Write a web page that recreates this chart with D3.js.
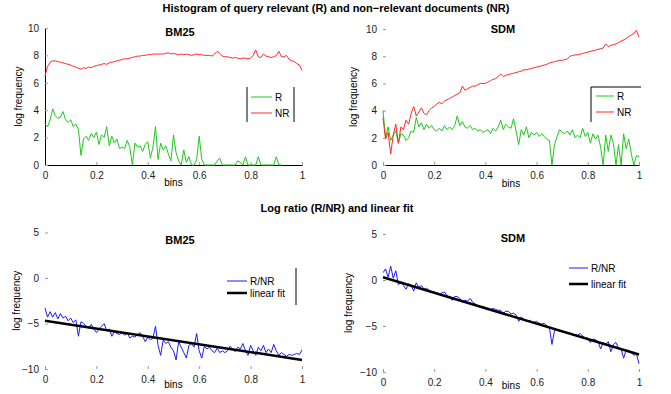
<!DOCTYPE html>
<html>
<head>
<meta charset="utf-8">
<script src="https://cdn.jsdelivr.net/npm/d3@7"></script>
<style>
  body { margin: 0; background: #fff; }
  svg { font-family: "Liberation Sans", Arial, sans-serif; }
</style>
</head>
<body>
<svg id="chart" width="671" height="394"></svg>
<script>
// bins 0 .. 1 in steps of 0.01
var bins = d3.range(0, 101).map(function (i) { return i / 100; });
var xTicks = [0, 0.2, 0.4, 0.6, 0.8, 1];
var histTicks = [0, 2, 4, 6, 8, 10];
var ratioTicks = [-10, -5, 0, 5];

var bm25NR = [6.5, 7.2, 7.5, 7.6, 7.6, 7.55, 7.5, 7.45, 7.4, 7.35,
  7.3, 7.2, 7.15, 7.05, 7.0, 7.1, 7.05, 7.15, 7.1, 7.2,
  7.25, 7.3, 7.35, 7.4, 7.35, 7.45, 7.5, 7.55, 7.6, 7.65,
  7.7, 7.75, 7.75, 7.8, 7.85, 7.9, 7.95, 7.95, 8.0, 8.0,
  8.05, 8.05, 8.1, 8.1, 8.1, 8.1, 8.1, 8.15, 8.2, 8.1,
  8.15, 8.1, 8.05, 8.1, 8.05, 8.1, 8.05, 8.0, 8.05, 8.1,
  8.05, 8.05, 8.0, 8.0, 8.0, 7.95, 8.1, 8.3, 8.15, 7.95,
  7.9, 7.9, 7.85, 7.8, 7.85, 7.8, 7.75, 7.8, 7.8, 7.75,
  7.8, 8.0, 8.4, 7.9, 7.85, 8.1, 7.95, 7.9, 7.85, 7.9,
  8.0, 8.3, 7.9, 7.9, 8.0, 7.7, 7.6, 7.55, 7.4, 7.3,
  6.9];
var bm25R = [3.0, 2.8, 3.3, 4.1, 3.6, 3.4, 3.5, 3.9, 3.3, 3.1,
  3.3, 2.8, 3.0, 2.6, 0.7, 1.9, 2.1, 1.8, 2.3, 2.0,
  2.4, 1.5, 2.2, 2.0, 2.8, 1.4, 2.1, 1.6, 1.9, 1.2,
  1.3, 1.2, 1.8, 1.3, 0.0, 1.6, 1.3, 1.4, 1.0, 1.5,
  1.7, 0.5, 1.3, 2.8, 0.4, 1.6, 1.1, 1.4, 0.8, 0.3,
  2.2, 0.9, 0.3, 0.0, 1.1, 0.2, 0.6, 0.0, 0.0, 0.4,
  2.1, 0.4, 0.0, 0.0, 0.0, 0.0, 0.0, 0.3, 0.5, 0.0,
  0.0, 0.0, 0.0, 0.0, 0.0, 0.3, 0.2, 0.0, 0.6, 0.0,
  0.0, 0.0, 0.0, 0.6, 0.0, 0.0, 0.0, 0.0, 0.0, 0.0,
  0.6, 0.0, 0.0, null, null, null, null, null, null, null,
  null];
var sdmNR = [3.5, 1.9, 2.4, 0.8, 2.2, 3.0, 1.6, 2.8, 2.6, 3.3,
  3.0, 3.8, 4.3, 3.6, 3.9, 4.2, 3.8, 3.7, 4.0, 4.2,
  4.3, 4.5, 4.6, 4.5, 4.7, 4.8, 4.9, 5.0, 5.1, 5.2,
  5.3, 5.8, 5.5, 5.6, 5.7, 5.8, 5.8, 5.9, 6.0, 6.0,
  6.0, 6.1, 6.2, 6.3, 6.35, 6.5, 6.7, 6.5, 6.6, 6.65,
  6.7, 6.75, 6.8, 6.85, 6.9, 7.0, 7.0, 7.05, 7.1, 7.15,
  7.2, 7.25, 7.3, 7.35, 7.4, 7.5, 7.55, 7.6, 7.65, 7.7,
  7.7, 7.75, 7.8, 8.0, 8.05, 8.1, 8.1, 8.15, 8.2, 8.25,
  8.3, 8.35, 8.4, 8.45, 8.5, 8.55, 8.6, 8.9, 8.7, 8.8,
  8.85, 8.9, 9.0, 9.1, 9.2, 9.3, 9.45, 9.55, 9.7, 9.9,
  9.4];
var sdmR = [4.0, 2.0, 2.8, 1.8, 2.2, 2.5, 1.6, 2.3, 2.2, 1.8,
  2.0, 2.5, 2.4, 3.5, 2.8, 3.1, 2.6, 3.0, 2.7, 2.9,
  2.6, 2.5, 2.7, 2.5, 2.9, 2.6, 2.8, 2.6, 2.9, 3.6,
  2.9, 3.2, 2.8, 2.7, 2.9, 2.6, 2.7, 2.5, 2.6, 2.4,
  2.5, 2.6, 2.3, 2.7, 2.5, 2.8, 3.3, 2.6, 3.0, 2.8,
  2.7, 3.4, 2.5, 1.5, 2.6, 2.2, 2.8, 2.0, 2.4, 2.2,
  2.4, 2.1, 2.3, 2.1, 1.9, 1.8, 0.0, 1.5, 2.1, 2.6,
  2.4, 2.3, 2.5, 2.2, 2.6, 2.0, 2.2, 2.0, 2.7, 2.1,
  2.4, 1.6, 2.3, 1.9, 2.2, 1.3, 0.0, 2.2, 1.0, 2.2,
  1.6, 0.0, 1.5, 0.0, 2.3, 1.2, 1.9, 0.8, 0.0, 0.7,
  0.6];
var bm25Ratio = [-3.3, -4.3, -3.7, -4.3, -3.8, -4.5, -3.9, -4.4, -4.2, -4.7,
  -4.4, -4.9, -4.6, -6.4, -4.8, -5.0, -5.3, -5.5, -5.1, -5.6,
  -6.0, -5.6, -5.3, -5.0, -5.8, -5.6, -6.4, -5.9, -6.1, -6.2,
  -6.0, -6.3, -6.0, -6.6, -6.4, -6.5, -6.2, -6.0, -6.4, -7.0,
  -6.5, -6.8, -6.6, -5.3, -7.4, -8.5, -6.8, -7.2, -7.0, -7.6,
  -8.0, -9.0, -7.0, -7.6, -8.2, -8.8, -7.4, -7.2, -7.6, -6.1,
  -8.0, -8.8, -7.5, -7.8, -7.6, -8.0, -8.2, -7.7, -8.2, -8.0,
  -8.2, -8.0, -7.5, -7.8, -8.1, -7.6, -7.8, -7.2, -8.0, -8.5,
  -7.4, -8.0, -8.5, -7.6, -8.0, -7.4, -8.2, -7.8, -8.2, -7.3,
  -8.0, -8.5, -8.2, -8.4, -8.6, -8.4, -8.5, -8.4, -8.3, -8.4,
  -7.9];
var sdmRatio = [0.8, 1.2, 0.3, 1.5, 0.2, 1.0, -0.5, -0.2, -0.6, -1.0,
  -0.4, -0.6, -1.2, -0.3, -0.8, -0.6, -1.0, -0.9, -1.1, -1.3,
  -1.3, -1.5, -1.6, -1.4, -1.3, -1.7, -1.9, -2.2, -1.8, -1.8,
  -2.0, -2.4, -2.2, -2.3, -2.0, -2.4, -2.6, -2.8, -3.0, -2.9,
  -3.0, -3.1, -3.2, -3.1, -3.2, -3.3, -3.3, -3.6, -3.4, -3.4,
  -3.7, -3.6, -3.8, -4.5, -4.0, -4.3, -4.5, -4.4, -4.5, -4.6,
  -4.5, -4.7, -4.8, -4.7, -5.0, -5.2, -7.0, -5.5, -5.4, -5.6,
  -5.6, -5.7, -5.8, -5.7, -6.0, -5.9, -6.0, -5.8, -6.1, -6.3,
  -6.3, -6.8, -6.4, -6.5, -6.7, -7.5, -6.8, -7.0, -6.7, -7.8,
  -7.0, -6.8, -7.4, -7.5, -8.5, -7.6, -7.7, -7.9, -8.2, -8.0,
  -9.1];
// linear fit end points at bins 0 and 1
var fitX = [0, 1];
var bm25Fit = [-4.7, -9.0];
var sdmFit = [0.3, -8.1];

var svg = d3.select("#chart");

svg.append("text")
  .attr("x", 336).attr("y", 12)
  .attr("text-anchor", "middle")
  .attr("font-size", 11).attr("font-weight", "bold")
  .text("Histogram of query relevant (R) and non\u2212relevant documents (NR)");

svg.append("text")
  .attr("x", 337).attr("y", 212)
  .attr("text-anchor", "middle")
  .attr("font-size", 11).attr("font-weight", "bold")
  .text("Log ratio (R/NR) and linear fit");

function drawPanel(p) {
  var x = d3.scaleLinear().domain([0, 1]).range([p.x0, p.x1]);
  var y = d3.scaleLinear().domain(p.yDomain).range([p.yBottom, p.yTop]);
  var g = svg.append("g");

  // axes (MATLAB style, inward ticks)
  var xAxis = g.append("g")
    .attr("transform", "translate(0," + p.yBottom + ")")
    .call(d3.axisBottom(x).tickValues(xTicks).tickSizeInner(-3).tickSizeOuter(0)
      .tickPadding(7).tickFormat(d3.format("")));
  var yAxis = g.append("g")
    .attr("transform", "translate(" + p.x0 + ",0)")
    .call(d3.axisLeft(y).tickValues(p.yTicks).tickSizeInner(-3).tickSizeOuter(0)
      .tickPadding(6));
  [xAxis, yAxis].forEach(function (a) {
    a.selectAll("text").attr("font-size", 10).attr("fill", "#222")
      .attr("font-family", "Liberation Sans, Arial, sans-serif");
    a.selectAll(".tick line").attr("stroke", "#999");
  });
  xAxis.select(".domain").attr("stroke", p.showX ? "#000" : "none");
  yAxis.select(".domain").attr("stroke", p.showY ? "#000" : "none");

  var line = d3.line()
    .defined(function (d) { return d[1] !== null; })
    .x(function (d) { return x(d[0]); })
    .y(function (d) { return y(d[1]); });

  p.series.forEach(function (s) {
    var pts = s.xs.map(function (v, i) { return [v, s.values[i]]; });
    g.append("path")
      .datum(pts)
      .attr("fill", "none")
      .attr("stroke", s.color)
      .attr("stroke-width", s.width)
      .attr("stroke-linejoin", "round")
      .attr("d", line);
  });

  // titles and labels
  g.append("text")
    .attr("x", p.titleX).attr("y", p.yTop + p.titleDy)
    .attr("text-anchor", "middle")
    .attr("font-size", 11).attr("font-weight", "bold")
    .text(p.title);
  g.append("text")
    .attr("x", (p.x0 + p.x1) / 2).attr("y", p.yBottom + p.xLabelDy)
    .attr("text-anchor", "middle")
    .attr("font-size", 10)
    .text("bins");
  g.append("text")
    .attr("transform", "translate(" + p.yLabelX + "," + (p.yTop + p.yBottom) / 2 + ") rotate(-90)")
    .attr("text-anchor", "middle")
    .attr("font-size", 10)
    .text("log frequency");

  // legend
  var lg = p.legend;
  var border = g.append("g").attr("stroke", "#000").attr("stroke-width", 1);
  lg.sides.forEach(function (side) {
    var c = { left: [lg.x, lg.y, lg.x, lg.y + lg.h], right: [lg.x + lg.w, lg.y, lg.x + lg.w, lg.y + lg.h],
      top: [lg.x, lg.y, lg.x + lg.w, lg.y], bottom: [lg.x, lg.y + lg.h, lg.x + lg.w, lg.y + lg.h] }[side];
    border.append("line").attr("x1", c[0]).attr("y1", c[1]).attr("x2", c[2]).attr("y2", c[3]);
  });
  p.series.forEach(function (s, i) {
    var ly = lg.y + lg.first + i * lg.step;
    g.append("line")
      .attr("x1", lg.lineX0).attr("x2", lg.lineX1)
      .attr("y1", ly).attr("y2", ly)
      .attr("stroke", s.color).attr("stroke-width", s.width);
    g.append("text")
      .attr("x", lg.lineX1 + 3).attr("y", ly + 3.5)
      .attr("font-size", 10)
      .text(s.name);
  });
}

drawPanel({
  x0: 45, x1: 302, yTop: 28, yBottom: 165, yDomain: [0, 10], yTicks: histTicks,
  showX: true, showY: true, title: "BM25", titleX: 180, titleDy: 8, yLabelX: 22, xLabelDy: 21,
  series: [
    { name: "R", xs: bins, values: bm25R, color: "#1ec81e", width: 1 },
    { name: "NR", xs: bins, values: bm25NR, color: "#ff2a2a", width: 1 }
  ],
  legend: { x: 247, y: 87, w: 47, h: 35, first: 10, step: 16, lineX0: 251, lineX1: 272, sides: ["left", "right"] }
});

drawPanel({
  x0: 383, x1: 639, yTop: 29, yBottom: 165, yDomain: [0, 10], yTicks: histTicks,
  showX: true, showY: false, title: "SDM", titleX: 503, titleDy: 4, yLabelX: 357, xLabelDy: 22,
  series: [
    { name: "R", xs: bins, values: sdmR, color: "#1ec81e", width: 1 },
    { name: "NR", xs: bins, values: sdmNR, color: "#ff2a2a", width: 1 }
  ],
  legend: { x: 591, y: 87, w: 50, h: 35, first: 9, step: 16, lineX0: 596, lineX1: 614, sides: ["left", "top"] }
});

drawPanel({
  x0: 45, x1: 302, yTop: 232.5, yBottom: 369, yDomain: [-10, 5], yTicks: ratioTicks,
  showX: false, showY: false, title: "BM25", titleX: 180, titleDy: 11, yLabelX: 20, xLabelDy: 19,
  series: [
    { name: "R/NR", xs: bins, values: bm25Ratio, color: "#1a1aff", width: 1 },
    { name: "linear fit", xs: fitX, values: bm25Fit, color: "#000", width: 2.5 }
  ],
  legend: { x: 224, y: 268, w: 72, h: 37, first: 13, step: 12, lineX0: 227, lineX1: 247, sides: ["right"] }
});

drawPanel({
  x0: 383, x1: 639, yTop: 234, yBottom: 372, yDomain: [-10, 5], yTicks: ratioTicks,
  showX: false, showY: false, title: "SDM", titleX: 513, titleDy: 8, yLabelX: 352, xLabelDy: 17,
  series: [
    { name: "R/NR", xs: bins, values: sdmRatio, color: "#1a1aff", width: 1 },
    { name: "linear fit", xs: fitX, values: sdmFit, color: "#000", width: 2.5 }
  ],
  legend: { x: 566, y: 258, w: 76, h: 36, first: 10, step: 16, lineX0: 569, lineX1: 588, sides: [] }
});
</script>
</body>
</html>
